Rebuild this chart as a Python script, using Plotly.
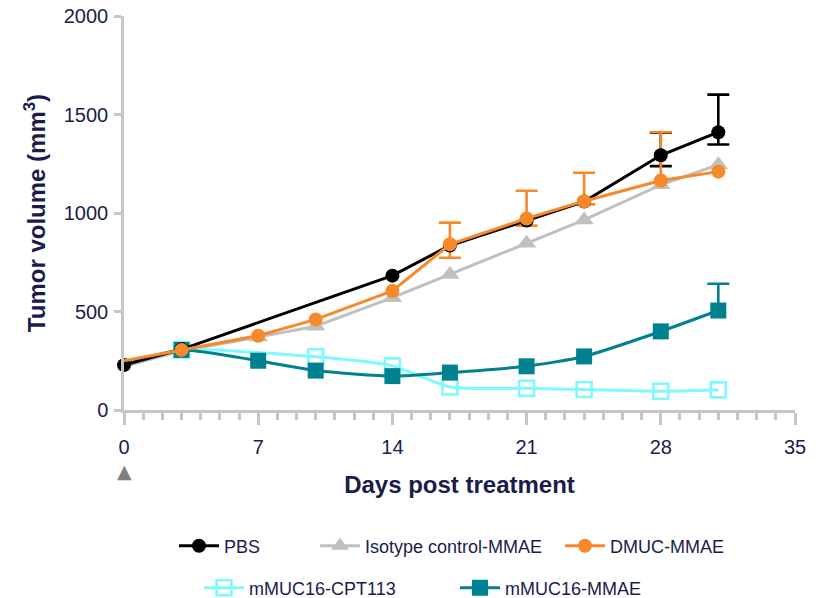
import plotly.graph_objects as go

# Measurement days
days_pbs = [0, 3, 14, 17, 21, 24, 28, 31]
days_all = [0, 3, 7, 10, 14, 17, 21, 24, 28, 31]
days_cpt = [0, 3, 10, 14, 17, 21, 24, 28, 31]

# Mean tumor volume (mm^3)
pbs = [228, 308, 682, 835, 962, 1058, 1293, 1410]
isotype = [220, 300, 370, 425, 570, 688, 846, 965, 1143, 1245]
dmuc = [250, 305, 377, 460, 604, 841, 972, 1060, 1165, 1210]
mmae = [230, 305, 250, 200, 172, 190, 222, 272, 399, 505]
cpt = [235, 305, 270, 224, 117, 110, 104, 95, 102]

# Error bars, day: (upper, lower); None = lower arm hidden behind the mark
pbs_err = {28: (115, 55), 31: (191, 62)}
dmuc_err = {17: (110, 68), 21: (141, 36), 24: (144, 16), 28: (245, None)}
mmae_err = {31: (136, None)}

treatment_days = [0]

x_ticks = [0, 7, 14, 21, 28, 35]
y_ticks = [0, 500, 1000, 1500, 2000]

NAVY = "#1a1c4c"
AXIS = "#c6c6c6"
FONT = "Liberation Sans, Arial, sans-serif"

BLACK = "#000000"
GRAY = "#c0c0c0"
ORANGE = "#f7892a"
CYAN = "#80f8ff"
TEAL = "#00818f"

fig = go.Figure()


def add_errors(days, values, errs, color):
    xs = [d for d in days if d in errs]
    ys = [values[days.index(d)] for d in xs]
    up = [errs[d][0] for d in xs]
    down = [errs[d][1] or 0 for d in xs]
    hidden = dict(size=1, opacity=0)
    # vertical arms
    fig.add_trace(go.Scatter(
        x=xs, y=ys, mode="markers", marker=hidden,
        error_y=dict(type="data", symmetric=False, array=up, arrayminus=down,
                     color=color, thickness=2.6, width=0),
        showlegend=False, hoverinfo="skip", cliponaxis=False,
    ))
    # caps at the arm ends
    cap_x, cap_y = [], []
    for d, v, u in zip(xs, ys, up):
        cap_x.append(d)
        cap_y.append(v + u)
        if errs[d][1] is not None:
            cap_x.append(d)
            cap_y.append(v - errs[d][1])
    fig.add_trace(go.Scatter(
        x=cap_x, y=cap_y, mode="markers", marker=hidden,
        error_y=dict(type="data", symmetric=True, array=[0] * len(cap_x),
                     color=color, thickness=2.6, width=11),
        showlegend=False, hoverinfo="skip", cliponaxis=False,
    ))


def sizes(days, size):
    # the shared baseline point at day 0 is marked only by the PBS circle
    return [0 if d == 0 else size for d in days]


add_errors(days_pbs, pbs, pbs_err, BLACK)
add_errors(days_all, dmuc, dmuc_err, ORANGE)
add_errors(days_all, mmae, mmae_err, TEAL)

series = [
    # name, days, values, colour, symbol, size, line shape, legend, hide day-0 mark
    ("Isotype control-MMAE", days_all, isotype, GRAY, "triangle-up", 17, "linear", "legend2", True),
    ("mMUC16-CPT113", days_cpt, cpt, CYAN, "square-open", 15, "spline", "legend4", True),
    ("mMUC16-MMAE", days_all, mmae, TEAL, "square", 16, "spline", "legend5", True),
    ("PBS", days_pbs, pbs, BLACK, "circle", 14, "linear", "legend", False),
    ("DMUC-MMAE", days_all, dmuc, ORANGE, "circle", 14, "linear", "legend3", True),
]

for name, days, vals, color, symbol, size, shape, legend, hide0 in series:
    mline = dict(width=2.6, color=color) if symbol.endswith("open") else dict(width=0)
    msize = sizes(days, size) if hide0 else size
    fig.add_trace(go.Scatter(
        x=days, y=vals, name=name, mode="lines+markers",
        line=dict(color=color, width=3, shape=shape, smoothing=0.6),
        marker=dict(symbol=symbol, size=msize, color=color, opacity=1, line=mline),
        showlegend=False, cliponaxis=False,
    ))
    # legend entry
    fig.add_trace(go.Scatter(
        x=[None], y=[None], name=name, mode="lines+markers",
        line=dict(color=color, width=3),
        marker=dict(symbol=symbol, size=size, color=color, line=mline),
        legend=legend, showlegend=True,
    ))

# Treatment day indicator under the x axis
for d in treatment_days:
    fig.add_annotation(
        x=d, xref="x", y=0, yref="paper", yanchor="middle",
        yshift=-61, text="▲", showarrow=False,
        font=dict(family="DejaVu Sans", size=19, color="#808080"),
    )

leg_font = dict(family=FONT, size=18, color=NAVY)


def leg(x, y):
    return dict(x=x, y=y, xref="paper", yref="paper", xanchor="left",
                yanchor="middle", orientation="h", font=leg_font,
                bgcolor="rgba(0,0,0,0)", itemwidth=40)


L, R, T, B = 124, 26, 16, 188
PW, PH = 821 - L - R, 598 - T - B


def px_x(p):
    return (p - L) / PW


def px_y(p):
    return (T + PH - p) / PH


fig.update_layout(
    width=821, height=598,
    margin=dict(l=L, r=R, t=T, b=B, pad=0, autoexpand=False),
    paper_bgcolor="white", plot_bgcolor="white",
    font=dict(family=FONT, color=NAVY),
    legend=leg(px_x(174), px_y(546)),
    legend2=leg(px_x(315), px_y(546)),
    legend3=leg(px_x(560), px_y(546)),
    legend4=leg(px_x(199), px_y(588)),
    legend5=leg(px_x(455), px_y(588)),
    xaxis=dict(
        range=[0, 35], tickvals=x_ticks, ticktext=[str(v) for v in x_ticks],
        showgrid=False, zeroline=False, showline=True,
        linecolor=AXIS, linewidth=2.5,
        ticks="outside", ticklen=12, tickwidth=2.5, tickcolor=AXIS,
        ticklabelstandoff=5,
        minor=dict(dtick=1, tick0=0, ticks="outside", ticklen=7,
                   tickwidth=2.5, tickcolor=AXIS, showgrid=False),
        tickfont=dict(family=FONT, size=20, color=NAVY),
        title=dict(text="<b>Days post treatment</b>", standoff=20,
                   font=dict(family=FONT, size=24, color=NAVY)),
    ),
    yaxis=dict(
        range=[0, 2000], tickvals=y_ticks, ticktext=[str(v) for v in y_ticks],
        showgrid=False, zeroline=False, showline=True,
        linecolor=AXIS, linewidth=2.5,
        ticks="outside", ticklen=7, tickwidth=2.5, tickcolor=AXIS,
        ticklabelstandoff=2,
        tickfont=dict(family=FONT, size=20, color=NAVY),
        title=dict(text="<b>Tumor volume (mm<sup>3</sup>)</b>", standoff=12,
                   font=dict(family=FONT, size=24, color=NAVY)),
    ),
)

fig.write_html("out.html")
